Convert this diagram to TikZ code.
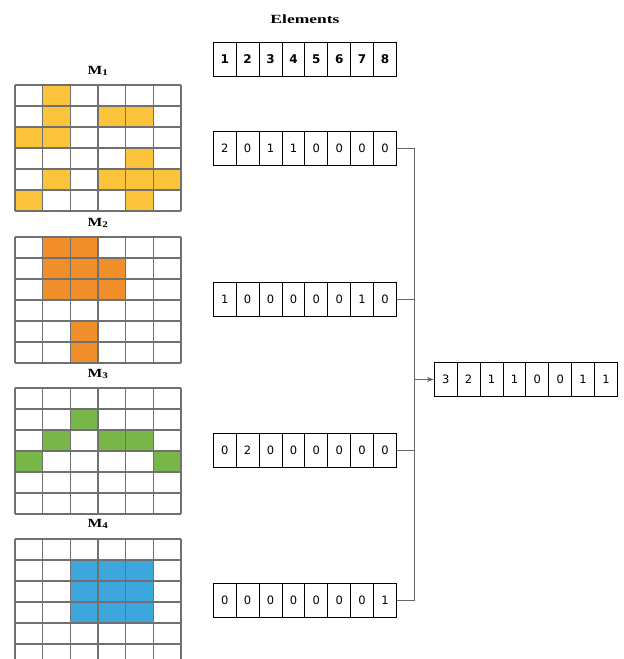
\documentclass[tikz,border=0pt]{standalone}
\usepackage{fontspec}
\setmainfont{Liberation Serif}
\newfontfamily\numfont{DejaVu Sans}
\usetikzlibrary{arrows.meta}
\definecolor{cy}{HTML}{FCC43B}
\definecolor{co}{HTML}{F08E29}
\definecolor{cg}{HTML}{79B649}
\definecolor{cb}{HTML}{3CA6DD}
\definecolor{gridgray}{HTML}{707070}
\definecolor{linkgray}{HTML}{666666}
\tikzset{
  cellbox/.style={draw=black, line width=0.9pt, minimum width=22.9pt, minimum height=34pt, inner sep=0pt, anchor=center, font=\numfont\fontsize{11.5}{13}\selectfont},
  headcell/.style={cellbox, font=\numfont\bfseries\fontsize{12}{13}\selectfont},
  mlabel/.style={font=\bfseries\fontsize{12.5}{14}\selectfont},
  link/.style={draw=linkgray, line width=0.8pt},
  gridline/.style={draw=gridgray, line width=1.1pt}
}
\newcommand{\mygrid}[3]{% top y, colour, list of col/row
  \foreach \c/\r in {#3} {
    \fill[#2] ({15+27.667*\c},{#1+21*\r}) rectangle ({15+27.667*(\c+1)},{#1+21*(\r+1)});
  }
  \foreach \k in {0,...,6} {
    \draw[gridline] ({15+27.667*\k},#1) -- ({15+27.667*\k},{#1+126});
    \draw[gridline] (15,{#1+21*\k}) -- (181,{#1+21*\k});
  }
}
\newcommand{\myvec}[5]{% name, x0, y centre, list, style
  \foreach \v [count=\i] in {#4} {
    \node[#5] (#1-\i) at ({#2+22.9*(\i-0.5)},#3) {\v};
  }
}
\begin{document}
\begin{tikzpicture}[x=1pt,y=-1pt]
\useasboundingbox (0,0) rectangle (624,659);
\node[mlabel] (elab) at (305,19) {\scalebox{1.4}[1]{Elements}};
\node[mlabel] (m1lab) at (98,71) {\scalebox{1.25}[1]{M$_{\mathbf{1}}$}};
\node[mlabel] (m2lab) at (98,223) {\scalebox{1.25}[1]{M$_{\mathbf{2}}$}};
\node[mlabel] (m3lab) at (98,374) {\scalebox{1.25}[1]{M$_{\mathbf{3}}$}};
\node[mlabel] (m4lab) at (98,524) {\scalebox{1.25}[1]{M$_{\mathbf{4}}$}};
\mygrid{85}{cy}{1/0,1/1,3/1,4/1,0/2,1/2,4/3,1/4,3/4,4/4,5/4,0/5,4/5}
\mygrid{237}{co}{1/0,2/0,1/1,2/1,3/1,1/2,2/2,3/2,2/4,2/5}
\mygrid{388}{cg}{2/1,1/2,3/2,4/2,0/3,5/3}
\mygrid{539}{cb}{2/1,3/1,4/1,2/2,3/2,4/2,2/3,3/3,4/3}
\myvec{e}{213.3}{59}{1,2,3,4,5,6,7,8}{headcell}
\myvec{a}{213.3}{148}{2,0,1,1,0,0,0,0}{cellbox}
\myvec{b}{213.3}{299.5}{1,0,0,0,0,0,1,0}{cellbox}
\myvec{c}{213.3}{450}{0,2,0,0,0,0,0,0}{cellbox}
\myvec{d}{213.3}{600.5}{0,0,0,0,0,0,0,1}{cellbox}
\myvec{r}{434.3}{379.5}{3,2,1,1,0,0,1,1}{cellbox}
\coordinate (bus) at (414.5,379.5);
\foreach \n in {a,b,c,d} {
  \draw[link] (\n-8.east) -- (\n-8.east -| bus) -- (bus);
}
\draw[link,-{Stealth[length=7pt,width=5pt]}] (bus) -- (r-1.west);
\end{tikzpicture}
\end{document}
